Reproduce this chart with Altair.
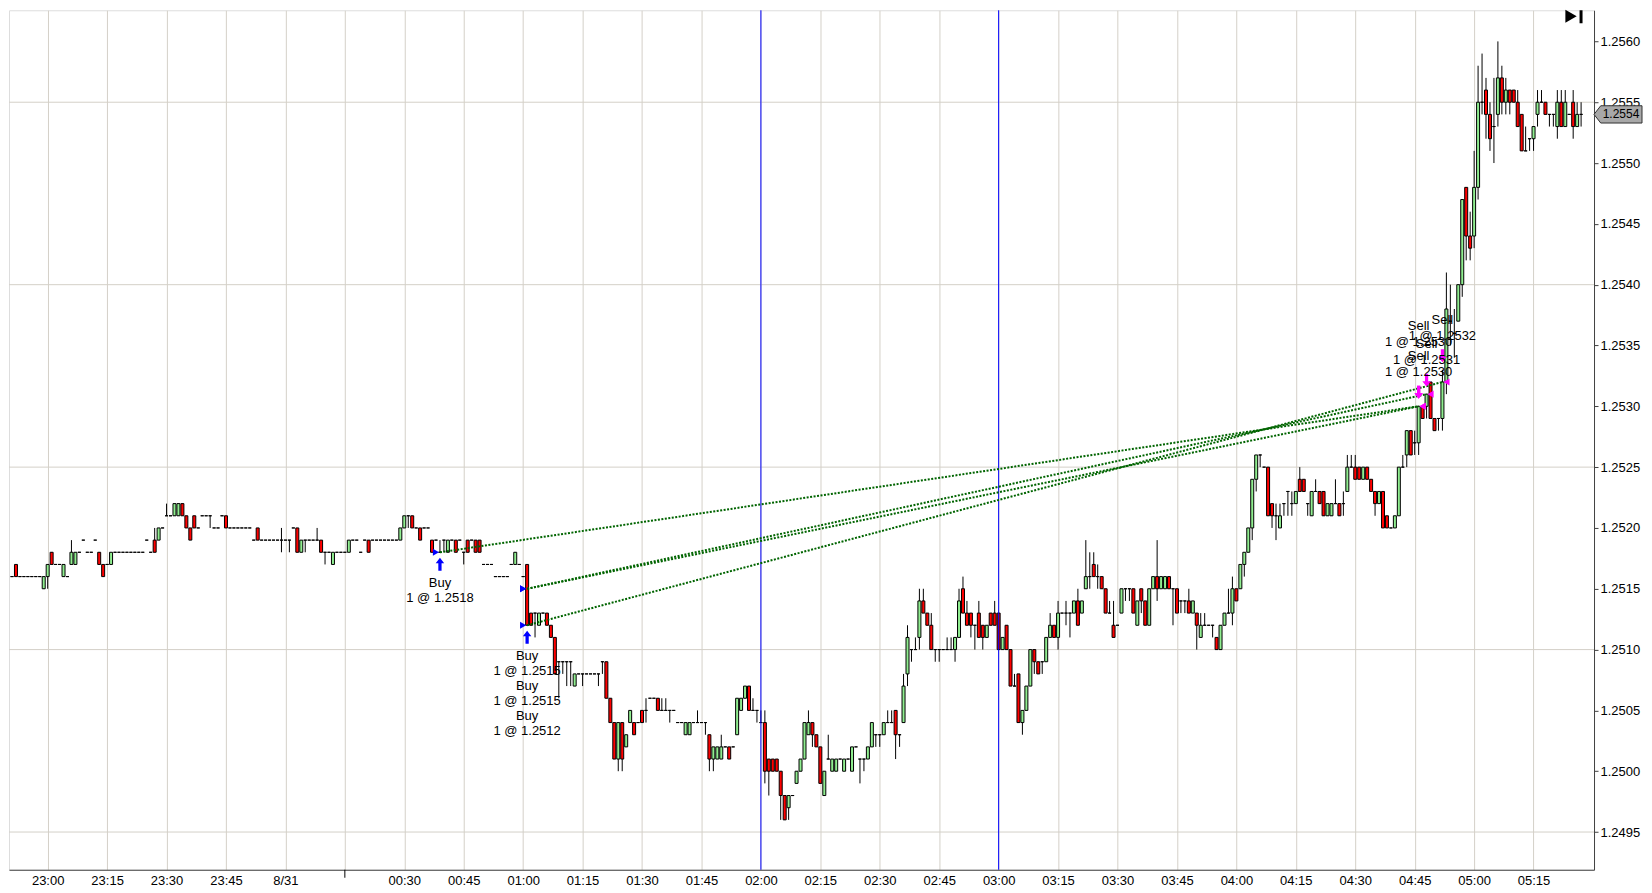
import altair as alt
import pandas as pd

BASE = 1.25     # bar values below are pips above 1.2500
PIP = 0.0001

# one-minute bars as (open, high, low, close) in pips; a lone int is a flat bar
bars_2251 = [16, (17, 17, 16, 16), 16, 16, 16, 16, 16, 16, (15, 16, 15, 16)]
bars_2300 = [
    (16, 17, 15, 17), (18, 18, 17, 17), 17, 17, (16, 17, 16, 17), 16,
    (17, 19, 17, 18), (17, 18, 17, 18), 18, 19, 18, 18, 19,
    (18, 18, 17, 17), (17, 17, 16, 16), 17, (17, 18, 17, 18),
    18, 18, 18, 18, 18, 18, 18, 18, 19, 18,
    (19, 20, 18, 18), (19, 20, 19, 20), 20, (21, 22, 21, 21), 21,
    (21, 22, 21, 22), (21, 22, 21, 22), (22, 22, 21, 21), (21, 21, 20, 20),
    (20, 20, 19, 19), (21, 21, 20, 20), 20, 21, 21, (21, 21, 20, 21),
    20, 20, 21, (21, 21, 20, 20), 20, 20, 20, 20, 20, 20, 19,
    (20, 20, 19, 19), 19, 19, 19, 19, 19, (19, 20, 18, 19),
]
bars_0000 = [
    19, (19, 19, 18, 19), 20, (20, 20, 18, 18), (18, 19, 18, 19), (19, 19, 18, 19), 19, 19, (19, 20, 19, 19), (19, 19, 18, 18),
    (18, 18, 17, 18), 18, (17, 18, 17, 18), 18, 18, 18, (18, 19, 18, 19), 19, 19, 18,
    19, (19, 19, 18, 18), 19, 19, 19, 19, 19, 19, 19, (19, 20, 19, 20),
    (20, 21, 20, 21), (21, 21, 20, 21), (21, 21, 20, 20), 20, (20, 20, 19, 19), 20, 20, (19, 19, 18, 18), 19, (18, 19, 18, 18),
    (19, 19, 18, 19), (18, 19, 18, 19), 19, (19, 19, 18, 18), 19, (18, 18, 17, 18), (19, 19, 18, 18), 19, (19, 19, 18, 18), (19, 19, 18, 18),
    17, 17, 17, 16, 16, 16, 16, 17, (17, 18, 17, 18), 17,
]
bars_0100 = [
    16, (17, 17, 12, 12), (13, 13, 12, 12), (13, 13, 11, 13), (12, 13, 12, 13), 13, (13, 13, 12, 12), (12, 12, 11, 11), (11, 11, 8, 8), (9, 9, 6, 9),
    (9, 9, 8, 9), (9, 9, 7, 9), (9, 9, 7, 9), (7, 8, 7, 8), 8, (8, 8, 7, 8), 8, 8, 8, (8, 8, 7, 8),
    (9, 9, 8, 9), (9, 9, 6, 6), (6, 6, 4, 4), (4, 4, 1, 1), (1, 4, 0, 4), (4, 4, 0, 1), (2, 3, 2, 3), (4, 5, 4, 5), (4, 4, 3, 3), 4,
    (5, 5, 4, 4), (5, 6, 4, 5), 6, 6, (6, 6, 5, 5), (5, 6, 5, 5), (5, 6, 5, 5), (5, 5, 4, 5), 5, 4,
    4, (3, 4, 3, 4), (3, 4, 3, 4), 4, (4, 5, 4, 4), 4, (4, 4, 3, 4), (3, 3, 0, 1), (1, 2, 0, 2), (1, 2, 1, 2),
    (1, 3, 1, 2), 2, (2, 2, 1, 1), 2, (3, 6, 3, 6), (5, 6, 5, 6), (6, 7, 6, 7), (7, 7, 5, 5), (5, 6, 5, 5), (5, 5, 4, 5),
]
bars_0200 = [
    (4, 5, 4, 4), (4, 5, -1, 0), (1, 1, -2, 0), (1, 1, 0, 0), (1, 1, 0, 0), (0, 0, -4, -2), (-2, -2, -4, -4), (-3, -2, -4, -2), -2, (-1, 0, -1, 0),
    (0, 1, 0, 1), (1, 4, 1, 4), (3, 5, 3, 4), (4, 4, 2, 3), (3, 3, 2, 2), (2, 2, -1, -1), (-2, 0, -2, 0), (1, 3, 1, 1), (0, 1, 0, 1), (0, 1, 0, 1),
    1, (0, 1, 0, 1), 1, (0, 2, 0, 2), 2, (1, 1, -1, 1), (1, 1, 0, 1), (1, 2, 1, 2), (2, 4, 2, 4), (3, 3, 2, 3),
    (3, 3, 2, 3), (3, 4, 3, 4), (4, 5, 4, 4), (4, 5, 4, 4), (5, 5, 1, 3), (3, 3, 2, 3), (4, 8, 4, 7), (8, 12, 7, 11), (10, 10, 9, 10), (10, 11, 10, 10),
    (11, 15, 10, 14), (14, 15, 13, 13), (13, 13, 12, 12), (12, 13, 10, 10), (10, 10, 9, 10), (10, 10, 9, 10), 10, (10, 11, 10, 10), (10, 11, 10, 10), (10, 11, 9, 11),
    (11, 15, 11, 14), (15, 16, 13, 13), (13, 14, 12, 12), (13, 13, 11, 12), (12, 12, 10, 12), (13, 14, 11, 11), (12, 12, 10, 11), (11, 12, 11, 12), (13, 13, 12, 12), (13, 14, 12, 12),
]
bars_0300 = [
    (13, 13, 10, 10), (10, 11, 10, 11), (12, 12, 10, 10), (10, 10, 7, 7), (7, 8, 7, 7), (8, 8, 4, 4), (4, 5, 3, 5), (5, 7, 5, 7), (7, 10, 7, 10), (10, 10, 8, 9),
    (9, 9, 8, 8), (9, 9, 8, 9), (9, 11, 9, 11), (11, 13, 11, 12), (12, 12, 11, 11), (11, 14, 10, 13), 13, (13, 14, 12, 13), (13, 13, 11, 13), (13, 14, 13, 14),
    (14, 15, 12, 12), (13, 14, 13, 14), (15, 19, 15, 16), (16, 18, 15, 16), (17, 18, 16, 16), (16, 17, 15, 16), (16, 16, 15, 15), (15, 15, 13, 13), (13, 14, 13, 13), (12, 14, 11, 11),
    12, (13, 15, 13, 15), (15, 15, 14, 15), (15, 15, 14, 15), (15, 15, 13, 13), (12, 14, 12, 14), (15, 15, 13, 14), (14, 14, 12, 12), (12, 15, 12, 15), (15, 16, 15, 16),
    (16, 19, 14, 15), (15, 16, 15, 16), (15, 16, 15, 16), (16, 16, 15, 15), (15, 15, 12, 15), (15, 15, 13, 13), (14, 14, 13, 14), (14, 14, 13, 14), (14, 15, 13, 13), (13, 14, 13, 14),
    (13, 13, 10, 12), (11, 13, 11, 12), (12, 13, 12, 12), 12, (12, 12, 11, 12), (11, 11, 10, 10), (10, 12, 10, 12), (12, 13, 12, 13), (13, 15, 13, 13), (13, 16, 12, 15),
]
bars_0400 = [
    (15, 15, 14, 14), (15, 17, 15, 17), (17, 18, 16, 18), (18, 20, 18, 20), (20, 24, 19, 24), (24, 26, 23, 26), (26, 26, 25, 26), 25, (25, 25, 21, 21), (22, 22, 20, 21),
    (21, 22, 19, 21), (20, 22, 20, 21), (22, 22, 21, 22), (23, 23, 21, 23), (22, 23, 21, 22), (22, 23, 22, 23), (24, 25, 23, 23), (24, 24, 23, 23), (22, 22, 21, 22), (21, 23, 21, 23),
    (23, 24, 23, 23), (23, 23, 22, 22), (23, 23, 21, 21), (21, 22, 21, 22), (21, 22, 21, 22), (22, 24, 22, 22), (22, 22, 21, 21), (22, 23, 21, 22), (23, 26, 23, 25), (25, 26, 25, 25),
    (25, 26, 24, 24), (25, 25, 24, 24), (24, 25, 24, 25), (25, 25, 24, 24), (24, 24, 23, 23), (23, 23, 21, 22), (22, 23, 22, 23), (23, 23, 20, 20), (21, 21, 20, 20), 20,
    (20, 21, 20, 21), (21, 25, 21, 25), (25, 26, 25, 25), (26, 28, 25, 28), (28, 28, 26, 26), (27, 28, 26, 27), (27, 30, 26, 30), (30, 30, 29, 29), (30, 31, 29, 31), (32, 32, 29, 29),
    (29, 29, 28, 28), (29, 29, 28, 29), (29, 33, 28, 32), (32, 41, 31, 38), (37, 40, 35, 37), (36, 38, 34, 36), (37, 40, 37, 40), (40, 47, 39, 47), (48, 48, 42, 44), (44, 46, 42, 43),
]
bars_0500 = [
    (44, 51, 43, 48), (48, 58, 47, 55), (55, 59, 54, 55), (56, 57, 52, 54), (54, 55, 51, 52), (53, 57, 50, 53), (54, 60, 53, 57), (57, 58, 54, 55), (55, 57, 54, 56), (56, 56, 54, 55),
    (56, 56, 55, 55), (55, 56, 53, 53), (54, 54, 51, 51), (51, 53, 51, 51), (52, 52, 51, 52), (52, 53, 51, 53), (54, 56, 53, 55), (55, 56, 55, 55), (55, 55, 54, 54), (54, 54, 53, 54),
    (54, 54, 53, 54), (53, 56, 52, 55), (55, 56, 53, 53), (53, 56, 53, 55), 54, (55, 56, 52, 53), (53, 55, 53, 54), (54, 55, 53, 54),
]
# minute offset (from 23:00) of the first bar of each block
hour_blocks = [(-9, bars_2251), (0, bars_2300), (60, bars_0000), (120, bars_0100),
               (180, bars_0200), (240, bars_0300), (300, bars_0400), (360, bars_0500)]

# trades: entry/exit bar (minutes from 23:00) and fill price in pips
entry_minute = [99, 121, 121, 121]
entry_pips = [18, 15, 15, 12]
exit_minute = [346, 346, 348, 352]
exit_pips = [30, 30, 31, 32]

tick_labels = ["23:00", "23:15", "23:30", "23:45", "8/31", "", "00:30", "00:45",
               "01:00", "01:15", "01:30", "01:45", "02:00", "02:15", "02:30", "02:45",
               "03:00", "03:15", "03:30", "03:45", "04:00", "04:15", "04:30", "04:45",
               "05:00", "05:15"]
price_ticks = [1.2495, 1.2500, 1.2505, 1.2510, 1.2515, 1.2520, 1.2525,
               1.2530, 1.2535, 1.2540, 1.2545, 1.2550, 1.2555, 1.2560]
grid_prices = [1.2495, 1.2510, 1.2525, 1.2540, 1.2555]
marker_minutes = [180, 240]   # the two blue vertical markers (02:00, 03:00)
session_break = [75]

GRID = "#D4D0C8"
AXIS = "#404040"

rows = []
for start, block in hour_blocks:
    for i, b in enumerate(block):
        if isinstance(b, int):
            b = (b, b, b, b)
        o, h, l, c = b
        rows.append({
            "m": start + i,
            "op": BASE + o * PIP, "hi": BASE + h * PIP,
            "lo": BASE + l * PIP, "cl": BASE + c * PIP,
            "dir": "up" if c > o else ("down" if c < o else "flat"),
        })
bars = pd.DataFrame(rows)
by_min = bars.set_index("m")

trades = pd.DataFrame({
    "em": entry_minute, "ep": [BASE + p * PIP for p in entry_pips],
    "xm": exit_minute, "xp": [BASE + p * PIP for p in exit_pips],
})

# buy labels stacked under each entry bar
buy_rows = []
for m in sorted(set(entry_minute)):
    lines = []
    for em, ep in zip(entry_minute, entry_pips):
        if em == m:
            lines += ["Buy", "1 @ %.4f" % (BASE + ep * PIP)]
    buy_rows.append({"m": m, "low": by_min.loc[m, "lo"], "txt": "\n".join(lines)})
buy_marks = pd.DataFrame(buy_rows)

sell_rows = []
seen = {}
for xm, xp in zip(exit_minute, exit_pips):
    k = seen.get(xm, 0)
    seen[xm] = k + 1
    sell_rows.append({"m": xm, "high": by_min.loc[xm, "hi"], "stack": k,
                      "txt": "Sell\n1 @ %.4f" % (BASE + xp * PIP)})
sell_marks = pd.DataFrame(sell_rows)

x_scale = alt.Scale(domain=[-8.5, 389], nice=False, zero=False)
y_scale = alt.Scale(domain=[BASE - 8.1 * PIP, BASE + 62.56 * PIP], nice=False, zero=False)

label_js = "[" + ",".join("'%s'" % t for t in tick_labels) + "][round(datum.value / 15)]"
x_axis = alt.Axis(values=[15 * i for i in range(len(tick_labels))], grid=True,
                  gridColor=GRID, gridWidth=1, ticks=False, domainColor=AXIS,
                  labelExpr=label_js, labelFontSize=13, labelColor="#000",
                  labelPadding=5, labelFlush=False, title=None)
y_axis = alt.Axis(orient="right", values=price_ticks, format=".4f", grid=False,
                  tickSize=4, tickColor=AXIS, domainColor=AXIS, labelFontSize=13,
                  labelColor="#000", labelPadding=2, title=None)


def X(field):
    return alt.X(field + ":Q", scale=x_scale, axis=x_axis)


def Y(field):
    return alt.Y(field + ":Q", scale=y_scale, axis=y_axis)


hgrid = alt.Chart(pd.DataFrame({"p": grid_prices})).mark_rule(
    color=GRID, strokeWidth=1).encode(y=Y("p"))

wicks = alt.Chart(bars).mark_rule(color="black", strokeWidth=1, clip=True).encode(
    x=X("m"), y=Y("lo"), y2="hi")

bodies = alt.Chart(bars).mark_bar(size=3, stroke="black", strokeWidth=1, clip=True).encode(
    x=X("m"), y=Y("op"), y2="cl",
    color=alt.Color("dir:N", legend=None,
                    scale=alt.Scale(domain=["up", "down", "flat"],
                                    range=["#90EE90", "#FF0000", "#000000"])))

blue_lines = alt.Chart(pd.DataFrame({"m": marker_minutes})).mark_rule(
    color="#0000FF", strokeWidth=1).encode(x=X("m"))

brk = alt.Chart(pd.DataFrame({"m": session_break})).mark_rule(
    color="#000", strokeWidth=1).encode(x=X("m"), y=alt.value(860), y2=alt.value(868))

links = alt.Chart(trades).mark_rule(
    color="#006400", strokeWidth=2, strokeDash=[2, 1.5]).encode(
    x=X("em"), y=Y("ep"), x2="xm", y2="xp")

buy_tri = alt.Chart(trades).mark_point(
    shape="triangle-right", size=50, filled=True, color="#0000FF", opacity=1, xOffset=-4
).encode(x=X("em"), y=Y("ep"))
sell_tri = alt.Chart(trades).mark_point(
    shape="triangle-left", size=50, filled=True, color="#FF00FF", opacity=1, xOffset=4
).encode(x=X("xm"), y=Y("xp"))

UP_ARROW = "M0,-1 L0.65,-0.15 L0.25,-0.15 L0.25,1 L-0.25,1 L-0.25,-0.15 L-0.65,-0.15 Z"
DOWN_ARROW = "M0,1 L0.65,0.15 L0.25,0.15 L0.25,-1 L-0.25,-1 L-0.25,0.15 L-0.65,0.15 Z"

buy_arrow = alt.Chart(buy_marks).mark_point(
    shape=UP_ARROW, size=169, filled=True, color="#0000FF", opacity=1, yOffset=12
).encode(x=X("m"), y=Y("low"))
sell_arrow = alt.Chart(sell_marks).mark_point(
    shape=DOWN_ARROW, size=169, filled=True, color="#FF00FF", opacity=1, yOffset=-14
).encode(x=X("m"), y=Y("high"))

buy_text = alt.Chart(buy_marks).mark_text(
    lineBreak="\n", lineHeight=15, baseline="top", align="center", dy=25,
    fontSize=13, color="#000"
).encode(x=X("m"), y=Y("low"), text="txt:N")

sell_layers = []
for k in sorted(sell_marks["stack"].unique()):
    sell_layers.append(
        alt.Chart(sell_marks[sell_marks["stack"] == k]).mark_text(
            lineBreak="\n", lineHeight=16, baseline="bottom", align="center",
            dy=-43 - 30 * int(k), fontSize=13, color="#000"
        ).encode(x=X("m"), y=Y("high"), text="txt:N"))

last = bars.iloc[[-1]][["cl"]].copy()
last["txt"] = last["cl"].map(lambda v: "%.4f" % v)
TAG = "M-1,0 L-0.72,-0.36 L1,-0.36 L1,0.36 L-0.72,0.36 Z"
tag = alt.Chart(last).mark_point(
    shape=TAG, size=2304, filled=True, fill="#A8A8A8", stroke="#303030",
    strokeWidth=1, opacity=1
).encode(x=alt.value(1610), y=Y("cl"))
tag_text = alt.Chart(last).mark_text(fontSize=12, align="center", color="#000").encode(
    x=alt.value(1613), y=Y("cl"), text="txt:N")

play_tri = alt.Chart(last).mark_point(
    shape="triangle-right", size=170, filled=True, color="#000", opacity=1
).encode(x=alt.value(1563), y=alt.value(6))
play_bar = alt.Chart(last).mark_rule(color="#000", strokeWidth=3).encode(
    x=alt.value(1573), y=alt.value(0), y2=alt.value(13))

chart = alt.layer(
    hgrid, wicks, bodies, blue_lines, brk, links,
    buy_tri, sell_tri, buy_arrow, sell_arrow, buy_text, *sell_layers,
    tag, tag_text, play_tri, play_bar
).properties(
    width=1586, height=860, padding=0
).configure_view(
    stroke=None
).configure(
    font="Liberation Sans", background="white"
)

chart.save("out.html", embed_options={"renderer": "svg", "actions": False})
